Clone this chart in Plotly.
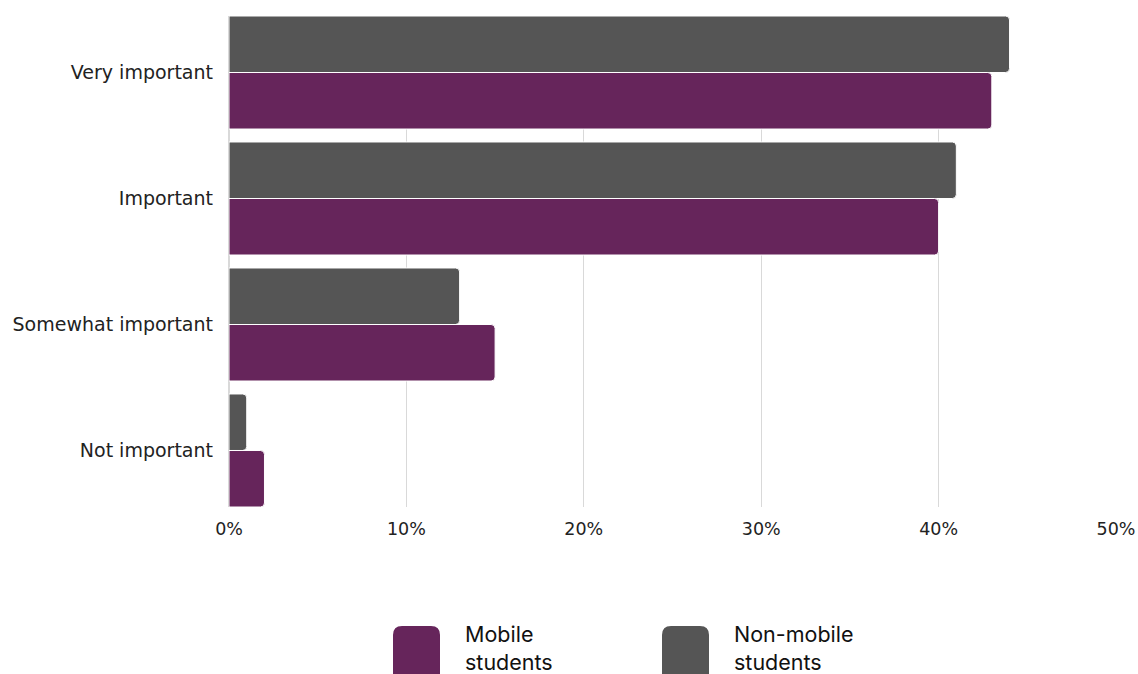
import plotly.graph_objects as go

categories = ["Very important", "Important", "Somewhat important", "Not important"]
mobile = [43, 40, 15, 2]
non_mobile = [44, 41, 13, 1]
tick_vals = [0, 10, 20, 30, 40, 50]
tick_text = ["0%", "10%", "20%", "30%", "40%", "50%"]

PURPLE = "#66255B"
GREY = "#555555"

W, H = 1138, 674
ml, mr, mt, mb = 229, 22, 16, 167
pw, ph = W - ml - mr, H - mt - mb
BARGAP = 0.103

fig = go.Figure()
fig.add_trace(go.Bar(y=categories, x=non_mobile, orientation="h", name="Non-mobile students",
                     marker=dict(color=GREY, line=dict(color="white", width=1)), showlegend=False))
fig.add_trace(go.Bar(y=categories, x=mobile, orientation="h", name="Mobile students",
                     marker=dict(color=PURPLE, line=dict(color="white", width=1)), showlegend=False))

def ppx(x):
    return (x - ml) / pw

def ppy(y):
    return (H - mb - y) / ph

legend_items = [("Mobile<br>students", PURPLE, 393, 465), ("Non-mobile<br>students", GREY, 662, 734)]
shapes = []
annotations = []
for label, color, sx, tx in legend_items:
    x0, x1 = ppx(sx), ppx(sx + 47)
    y0, y1 = ppy(684), ppy(626)
    rx = 9 / pw
    ry = 9 / ph
    path = (f"M {x0+rx},{y1} L {x1-rx},{y1} Q {x1},{y1} {x1},{y1-ry} L {x1},{y0+ry} Q {x1},{y0} {x1-rx},{y0} "
            f"L {x0+rx},{y0} Q {x0},{y0} {x0},{y0+ry} L {x0},{y1-ry} Q {x0},{y1} {x0+rx},{y1} Z")
    shapes.append(dict(type="path", xref="paper", yref="paper", path=path,
                       fillcolor=color, line=dict(width=0)))
    annotations.append(dict(xref="paper", yref="paper", x=ppx(tx - 2), y=ppy(619), xanchor="left", yanchor="top",
                            text=label, showarrow=False, align="left",
                            font=dict(family="Inter, Roboto, sans-serif", size=21.5, color="#111111")))

n = len(categories)
fig.update_layout(
    width=W, height=H,
    margin=dict(l=ml, r=mr, t=mt, b=mb, autoexpand=False),
    barmode="group", bargap=BARGAP, bargroupgap=0.0,
    barcornerradius=4,
    plot_bgcolor="white", paper_bgcolor="white",
    font=dict(family="DejaVu Sans, sans-serif", size=18, color="#222222"),
    xaxis=dict(range=[0, 50], tickvals=tick_vals, ticktext=tick_text, showgrid=True,
               gridcolor="#D9D9D9", gridwidth=1, zeroline=True, zerolinecolor="#D9D9D9",
               showline=False, ticks="", ticklabelstandoff=9, automargin=False,
               tickfont=dict(family="DejaVu Sans, sans-serif", size=17.5)),
    yaxis=dict(range=[n - 0.5 - BARGAP / 2, -0.5 + BARGAP / 2], showgrid=False, ticks="",
               ticklabelstandoff=15, automargin=False,
               tickfont=dict(family="DejaVu Sans, sans-serif", size=19)),
    shapes=shapes, annotations=annotations,
)

fig.write_html("out.html")
